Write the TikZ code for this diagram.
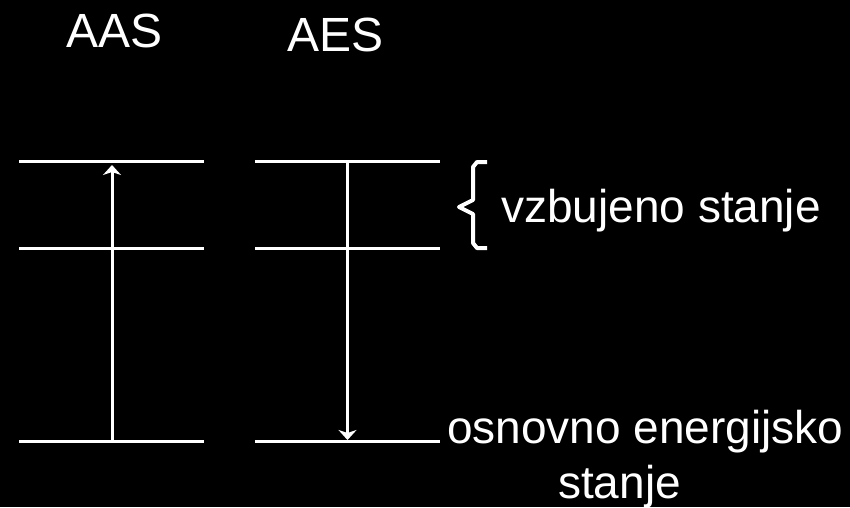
\documentclass[tikz,border=0pt]{standalone}
\usepackage{fontspec}
\setmainfont{Liberation Sans}
\usetikzlibrary{arrows.meta}
\begin{document}
\begin{tikzpicture}[x=1pt,y=-1pt,
  level/.style={white,line width=3pt},
  trans/.style={white,line width=3pt,-{Stealth[length=10pt,width=18pt,inset=3pt]}},
  title/.style={white,anchor=base west,inner sep=0pt,font=\fontsize{48}{48}\selectfont},
  label/.style={white,anchor=base west,inner sep=0pt,font=\fontsize{46}{46}\selectfont}]
  % black background fixes the page size
  \fill[black] (0,0) rectangle (850,507);
  \useasboundingbox (0,0) rectangle (850,507);

  % headings
  \node[title] (aas) at (66,47) {AAS};
  \node[title] (aes) at (287,51) {AES};

  % level ends, absorption diagram
  \coordinate (a1l) at (19,161.5);  \coordinate (a1r) at (204,161.5);
  \coordinate (a2l) at (19,248.5);  \coordinate (a2r) at (204,248.5);
  \coordinate (a0l) at (19,441.5);  \coordinate (a0r) at (204,441.5);
  % level ends, emission diagram
  \coordinate (e1l) at (255,161.5); \coordinate (e1r) at (440,161.5);
  \coordinate (e2l) at (255,248.5); \coordinate (e2r) at (440,248.5);
  \coordinate (e0l) at (255,441.5); \coordinate (e0r) at (440,441.5);

  \foreach \p in {a1,a2,a0,e1,e2,e0}
    \draw[level] (\p l) -- (\p r);

  % transitions
  \coordinate (aup0) at (112,441.5);
  \coordinate (aup1) at (112,165);
  \coordinate (edn1) at (347.5,161.5);
  \coordinate (edn0) at (347.5,440);
  \draw[trans] (aup0) -- (aup1);
  \draw[trans] (edn1) -- (edn0);

  % brace grouping the excited levels
  \coordinate (bt) at (487,162);
  \coordinate (bm) at (459,207);
  \coordinate (bb) at (487,248);
  \draw[white,line width=4pt,line join=round]
    (bt) -- (477,162) -- (473,167) -- (473,200) -- (bm)
    -- (473,214) -- (473,243) -- (477,248) -- (bb);

  % labels
  \node[label] (exc) at (501,222) {vzbujeno stanje};
  \node[label] (gnd) at (447,443) {osnovno energijsko};
  \node[label] (gnd2) at (558,498) {stanje};
\end{tikzpicture}
\end{document}
